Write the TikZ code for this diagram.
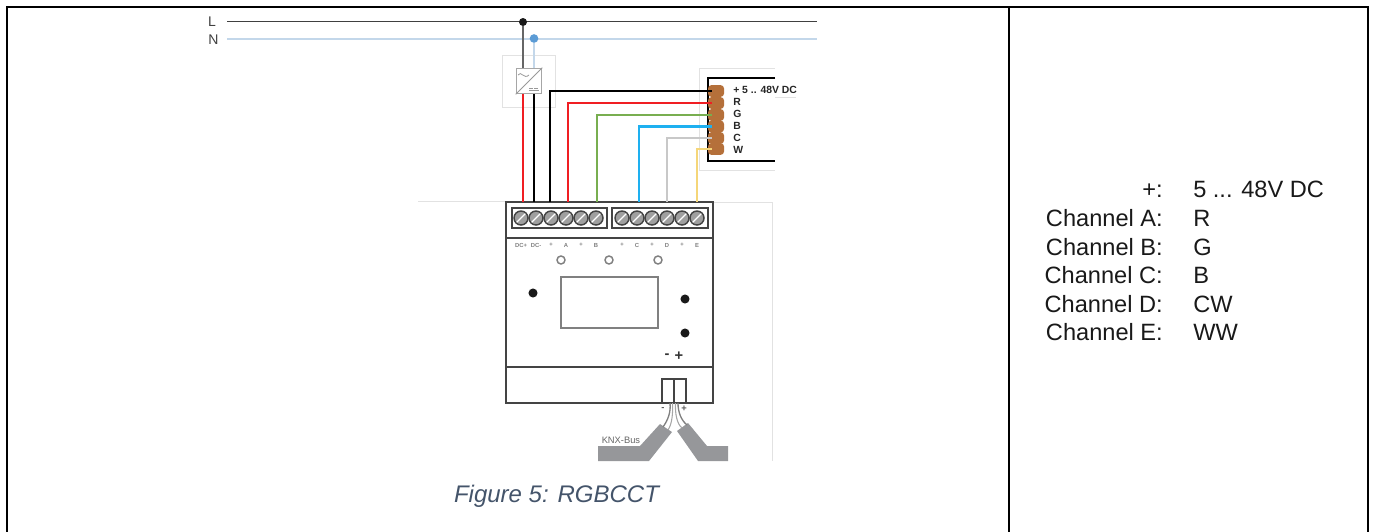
\documentclass[tikz,border=0pt]{standalone}
\usepackage{fontspec}
\setmainfont{Liberation Sans}
\definecolor{faint}{HTML}{E2E2E2}
\definecolor{housing}{HTML}{444444}
\definecolor{neutral}{HTML}{C3D7EA}
\definecolor{neutraldot}{HTML}{5B9BD5}
\definecolor{copper}{HTML}{B5703A}
\definecolor{wirered}{HTML}{F01E23}
\definecolor{wiregreen}{HTML}{78AE50}
\definecolor{wireblue}{HTML}{1EB0F0}
\definecolor{wiregrey}{HTML}{C8C8C8}
\definecolor{wireyellow}{HTML}{F5D679}
\definecolor{busgrey}{HTML}{96979A}
\definecolor{captionblue}{HTML}{44546A}
\tikzset{
  frameline/.style={line width=1.6pt,black},
  faintline/.style={line width=0.6pt,faint},
  wire/.style={line width=1.9pt},
  shell/.style={line width=1.6pt,housing},
  screw/.style={circle,draw=housing,line width=1.1pt,fill=gray!75,minimum size=10.5pt,inner sep=0pt,
    path picture={\draw[white,line width=0.9pt] (path picture bounding box.south west) -- (path picture bounding box.north east);}},
  lamp/.style={circle,draw=gray,line width=1.1pt,minimum size=6pt,inner sep=0pt},
  blackdot/.style={circle,fill=black!90,minimum size=6.8pt,inner sep=0pt},
  pad/.style={rectangle,rounded corners=2.5pt,fill=copper,minimum width=12pt,minimum height=8.8pt,inner sep=0pt},
  padlabel/.style={anchor=west,inner sep=0pt,font=\bfseries\fontsize{7.8pt}{9pt}\selectfont,text=black!85},
  termlabel/.style={inner sep=0pt,font=\bfseries\fontsize{4.4pt}{5pt}\selectfont,text=gray},
  tablekey/.style={anchor=base east,inner sep=0pt,font=\fontsize{17.7pt}{20pt}\selectfont,text=black!90},
  tableval/.style={anchor=base west,inner sep=0pt,font=\fontsize{17.7pt}{20pt}\selectfont,text=black!90}
}
\begin{document}
\begin{tikzpicture}[x=0.75pt,y=-0.75pt]
  \useasboundingbox (0,0) rectangle (1375,532);
  % table frame
  \draw[frameline] (7,532) -- (7,7) -- (1368,7) -- (1368,532);
  \draw[frameline] (1009,7) -- (1009,532);
  % mains
  \node[inner sep=0pt,text=black!75,font=\fontsize{10.5pt}{11pt}\selectfont] (llabel) at (212,21.5) {L};
  \node[inner sep=0pt,text=black!75,font=\fontsize{10.5pt}{11pt}\selectfont] (nlabel) at (213.5,39.5) {N};
  \coordinate (lstart) at (227,21.5);
  \coordinate (lend) at (817,21.5);
  \coordinate (nstart) at (227,39);
  \coordinate (nend) at (817,39);
  \draw[line width=0.8pt,black!75] (lstart) -- (lend);
  \draw[line width=1.5pt,neutral] (nstart) -- (nend);
  % power supply
  \draw[faintline] (502.5,55) rectangle (555,107);
  \node[draw=gray!70,line width=0.8pt,fill=white,minimum size=19.2pt,inner sep=0pt] (psu) at (529,81) {};
  \draw[gray!80,line width=0.6pt] (psu.south west) -- (psu.north east);
  \draw[gray!80,line width=0.6pt] (518,75) .. controls (521,70) and (524,80) .. (529,75);
  \draw[gray!80,line width=0.6pt,dash pattern=on 3pt off 0.8pt] (529,88.5) -- (539,88.5);
  \draw[gray!80,line width=0.6pt] (529,90.5) -- (539,90.5);
  \node[blackdot,minimum size=6pt] (ldot) at (523,22) {};
  \node[circle,fill=neutraldot,minimum size=6.5pt,inner sep=0pt] (ndot) at (534,38.5) {};
  \coordinate (psul) at (523,68);
  \coordinate (psun) at (534,68);
  \coordinate (psupos) at (523,94);
  \coordinate (psuneg) at (534,94);
  \draw[line width=0.8pt,black!60] (ldot) -- (psul);
  \draw[line width=1pt,neutral] (ndot) -- (psun);
  % led strip
  \draw[faintline] (775,68) -- (699,68) -- (699,170) -- (775,170);
  \draw[faintline] (775,97) -- (796,97);
  \draw[line width=2pt,black] (775,78) -- (708,78) -- (708,161) -- (775,161);
  \node[pad] (padplus) at (716,91) {};
  \node[pad] (padr) at (716,103) {};
  \node[pad] (padg) at (716,115) {};
  \node[pad] (padb) at (716,126.5) {};
  \node[pad] (padc) at (716,138) {};
  \node[pad] (padw) at (716,149) {};
  \node[padlabel] (lplus) at (733,89.5) {+ 5 .. 48V DC};
  \node[padlabel] (lr) at (733,102) {R};
  \node[padlabel] (lg) at (733,114) {G};
  \node[padlabel] (lb) at (733,126) {B};
  \node[padlabel] (lc) at (733,138) {C};
  \node[padlabel] (lw) at (733,150) {W};
  % faint page lines
  \draw[faintline] (418,201) -- (506,201);
  \draw[faintline] (713,202) -- (772,202) -- (772,461);
  % device housing
  \draw[shell] (506,202) rectangle (713,403);
  \draw[shell] (506,238) -- (713,238);
  \draw[shell] (506,367) -- (713,367);
  \draw[shell] (512,208) rectangle (607,228);
  \draw[shell] (612,208) rectangle (708,228);
  \node[screw] (s1) at (521,218) {};
  \node[screw] (s2) at (536,218) {};
  \node[screw] (s3) at (551,218) {};
  \node[screw] (s4) at (566,218) {};
  \node[screw] (s5) at (581,218) {};
  \node[screw] (s6) at (596,218) {};
  \node[screw] (s7) at (622,218) {};
  \node[screw] (s8) at (637,218) {};
  \node[screw] (s9) at (652,218) {};
  \node[screw] (s10) at (667,218) {};
  \node[screw] (s11) at (682,218) {};
  \node[screw] (s12) at (697,218) {};
  \node[termlabel] (t1) at (521,245) {DC+};
  \node[termlabel] (t2) at (536,245) {DC-};
  \node[termlabel] (t3) at (551,245) {+};
  \node[termlabel] (t4) at (566,245) {A};
  \node[termlabel] (t5) at (581,245) {+};
  \node[termlabel] (t6) at (596,245) {B};
  \node[termlabel] (t7) at (622,245) {+};
  \node[termlabel] (t8) at (637,245) {C};
  \node[termlabel] (t9) at (652,245) {+};
  \node[termlabel] (t10) at (667,245) {D};
  \node[termlabel] (t11) at (682,245) {+};
  \node[termlabel] (t12) at (697,245) {E};
  \node[lamp] (lamp1) at (561,260) {};
  \node[lamp] (lamp2) at (609,260) {};
  \node[lamp] (lamp3) at (658,260) {};
  \draw[line width=1.1pt,gray] (561,277) rectangle (658,328);
  \node[blackdot] (dot1) at (533,293) {};
  \node[blackdot] (dot2) at (685,299) {};
  \node[blackdot] (dot3) at (685,333) {};
  \node[inner sep=0pt,font=\bfseries\fontsize{11pt}{11pt}\selectfont,text=black!80] (minus) at (667,356.5) {-};
  \node[inner sep=0pt,font=\bfseries\fontsize{11pt}{11pt}\selectfont,text=black!80] (plus) at (679,356.5) {+};
  % terminals
  \coordinate (tdcp) at (523,202);
  \coordinate (tdcn) at (534,202);
  \coordinate (tplus) at (550,202);
  \coordinate (ta) at (568,202);
  \coordinate (tb) at (597,202);
  \coordinate (tc) at (639,202);
  \coordinate (td) at (667,202);
  \coordinate (te) at (697,202);
  % wires
  \draw[wire,wirered] (psupos) -- (tdcp);
  \draw[wire,black] (psuneg) -- (tdcn);
  \draw[wire,black] (tplus) |- ([xshift=3pt]padplus.west);
  \draw[wire,wirered] (ta) |- ([xshift=3pt]padr.west);
  \draw[wire,wiregreen] (tb) |- ([xshift=3pt]padg.west);
  \draw[wire,wireblue] (tc) |- ([xshift=3pt]padb.west);
  \draw[wire,wiregrey] (td) |- ([xshift=3pt]padc.west);
  \draw[wire,wireyellow] (te) |- ([xshift=3pt]padw.west);
  % knx port and bus
  \draw[shell] (662,403) -- (662,379) -- (686,379) -- (686,403);
  \draw[shell] (674,379) -- (674,403);
  \node[inner sep=0pt,font=\bfseries\fontsize{7pt}{7pt}\selectfont,text=black!65] (busminus) at (663,409) {-};
  \node[inner sep=0pt,font=\bfseries\fontsize{7pt}{7pt}\selectfont,text=black!65] (busplus) at (684,409) {+};
  \fill[busgrey] (598,446) -- (640,446) -- (660,424) -- (672,432) -- (649,461) -- (598,461) -- cycle;
  \fill[busgrey] (677,431) -- (688,423) -- (707,446) -- (728,446) -- (728,461) -- (698,461) -- cycle;
  \node[anchor=west,inner sep=0pt,font=\fontsize{7pt}{8pt}\selectfont,text=black!60] (buslabel) at (601.5,440) {KNX-Bus};
  \coordinate (pina) at (670,403);
  \coordinate (pinb) at (672.5,403);
  \coordinate (pinc) at (675.5,403);
  \coordinate (pind) at (678,403);
  \coordinate (corea) at (663,427);
  \coordinate (coreb) at (668,430);
  \coordinate (corec) at (682,428);
  \coordinate (cored) at (687,425);
  \draw[line width=1pt,gray] (pina) .. controls (671,412) and (668,420) .. (corea);
  \draw[line width=0.8pt,gray!70] (pinb) .. controls (673,414) and (672,424) .. (coreb);
  \draw[line width=0.8pt,gray!70] (pinc) .. controls (675,414) and (677,424) .. (corec);
  \draw[line width=1pt,gray] (pind) .. controls (678,412) and (681,420) .. (cored);
  % caption
  \node[anchor=base,inner sep=0pt,font=\itshape\fontsize{18pt}{20pt}\selectfont,text=captionblue] (caption) at (556.5,502) {Figure 5: RGBCCT};
  % channel table
  \node[tablekey] (k1) at (1163,197) {+:};
  \node[tablekey] (k2) at (1163,226) {Channel A:};
  \node[tablekey] (k3) at (1163,255) {Channel B:};
  \node[tablekey] (k4) at (1163,283) {Channel C:};
  \node[tablekey] (k5) at (1163,312) {Channel D:};
  \node[tablekey] (k6) at (1163,340) {Channel E:};
  \node[tableval] (v1) at (1193,197) {5 ... 48V DC};
  \node[tableval] (v2) at (1193,226) {R};
  \node[tableval] (v3) at (1193,255) {G};
  \node[tableval] (v4) at (1193,283) {B};
  \node[tableval] (v5) at (1193,312) {CW};
  \node[tableval] (v6) at (1193,340) {WW};
\end{tikzpicture}
\end{document}
